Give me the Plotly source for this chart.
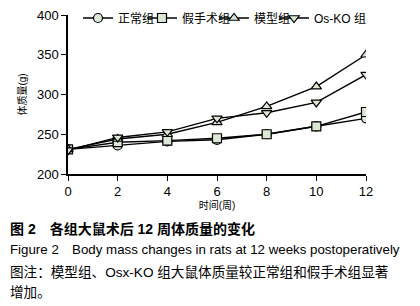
import plotly.graph_objects as go

weeks = [0, 2, 4, 6, 8, 10, 12]
normal = [231, 236, 241, 243, 250, 260, 270]
sham = [231, 240, 242, 245, 250, 260, 278]
model = [231, 244, 250, 265, 285, 310, 350]
os_ko = [230, 246, 253, 270, 277, 290, 325]

names = ["正常组", "假手术组", "模型组", "Os-KO 组"]
symbols = ["circle", "square", "triangle-up", "triangle-down"]
series = [normal, sham, model, os_ko]
legend_px = [70, 134, 206, 266]  # where each legend entry starts

FONT = "Arial, Liberation Sans, Noto Sans CJK SC"
fill = "#dce8d6"
# page body has an 8px margin, so the figure is 412x298 and coords are shifted by 8
W, H = 412, 298
L, R, T, B = 60, 358, 7, 166

fig = go.Figure()
for i, (name, sym, vals) in enumerate(zip(names, symbols, series)):
    lg = "legend" if i == 0 else f"legend{i + 1}"
    fig.add_trace(go.Scatter(
        x=weeks, y=vals, name=name, mode="lines+markers", legend=lg,
        line=dict(color="black", width=1.4),
        marker=dict(symbol=sym, size=9, color=fill, line=dict(color="black", width=1.2)),
    ))
    fig.update_layout({lg: dict(
        x=(legend_px[i] - L) / (R - L), y=(B - 10) / (B - T), xanchor="left", yanchor="middle",
        font=dict(size=12), itemwidth=30, bgcolor="rgba(0,0,0,0)", borderwidth=0,
    )})

fig.update_layout(
    width=W, height=H,
    margin=dict(l=L, r=W - R, t=T, b=H - B, autoexpand=False),
    plot_bgcolor="white", paper_bgcolor="white",
    font=dict(family=FONT, size=12, color="black"),
    showlegend=True,
)
fig.update_xaxes(range=[0, 12], tickvals=weeks, showline=True, linecolor="black", linewidth=1.5,
                 ticks="outside", ticklen=5, tickcolor="black", showgrid=False, zeroline=False,
                 tickfont=dict(size=13), automargin=False, ticklabeloverflow="allow",
                 title=dict(text="时间(周)", font=dict(size=10), standoff=2))
fig.update_yaxes(range=[200, 400], tickvals=[200, 250, 300, 350, 400], showline=True,
                 linecolor="black", linewidth=1.5, ticks="outside", ticklen=5, tickcolor="black",
                 showgrid=False, zeroline=False, tickfont=dict(size=13), automargin=False,
                 ticklabeloverflow="allow",
                 title=dict(text="体质量(g)", font=dict(size=10), standoff=8))

captions = [
    ("<b>图 2　各组大鼠术后 12 周体质量的变化</b>", 221, 14),
    ("Figure 2　Body mass changes in rats at 12 weeks postoperatively", 242, 13.3),
    ("图注：模型组、Osx-KO 组大鼠体质量较正常组和假手术组显著", 264, 13.6),
    ("增加。", 284, 13.6),
]
for text, ypx, fs in captions:
    fig.add_annotation(text=text, xref="paper", yref="paper", x=(0 - L) / (R - L), xanchor="left",
                       y=(B - ypx) / (B - T), yanchor="middle", showarrow=False,
                       font=dict(size=fs, family=FONT))

fig.write_html("out.html")
